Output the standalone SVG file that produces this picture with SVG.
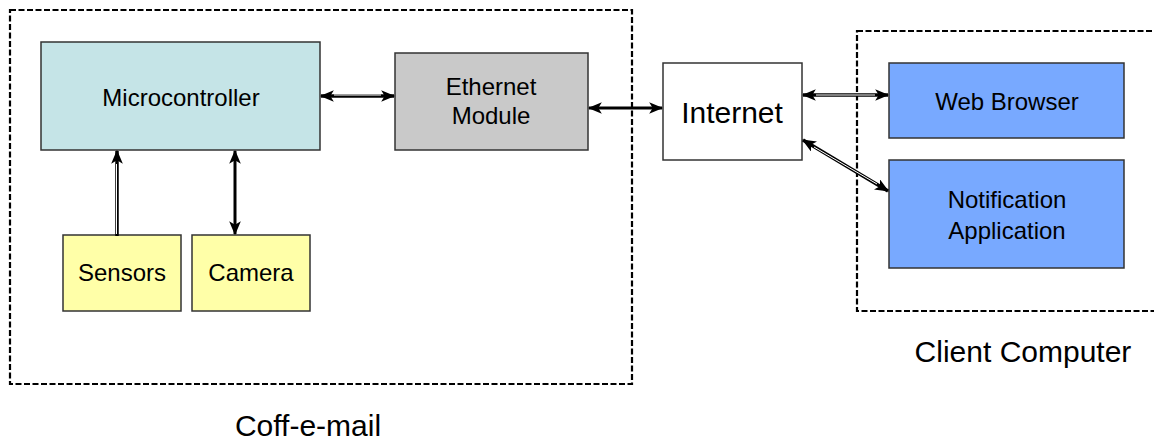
<svg xmlns="http://www.w3.org/2000/svg" width="1154" height="440" viewBox="0 0 1154 440">
  <defs>
    <marker id="head" viewBox="0 0 12 10" refX="11" refY="5" markerWidth="14" markerHeight="12" markerUnits="userSpaceOnUse" orient="auto-start-reverse">
      <path d="M0,0 L12,5 L0,10 L3,5 Z" fill="#000"/>
    </marker>
  </defs>
  <style>
    .group { fill: none; stroke: #000; stroke-width: 2.2; stroke-dasharray: 6 2.5; }
    .node { stroke: #333; stroke-width: 1.5; }
    .label { font-family: "Liberation Sans", Arial, sans-serif; fill: #000; text-anchor: middle; }
    .wire { fill: none; stroke: #000; stroke-width: 3.5; }
    .core { fill: none; stroke: #fff; stroke-width: 1; }
    .solid { fill: none; stroke: #000; stroke-width: 3; }
  </style>

  <rect id="background" x="0" y="0" width="1154" height="440" fill="#fff"/>

  <!-- system boundaries -->
  <g id="coffemail-boundary">
    <rect class="group" x="10" y="10" width="622" height="374"/>
    <text class="label" x="308" y="436" font-size="30">Coff-e-mail</text>
  </g>
  <g id="client-boundary">
    <rect class="group" x="857" y="31" width="320" height="280"/>
    <text class="label" x="1023" y="362" font-size="30">Client Computer</text>
  </g>

  <!-- components -->
  <g id="microcontroller">
    <rect class="node" x="41" y="42" width="279" height="108" fill="#C5E4E7"/>
    <text class="label" x="181" y="106" font-size="24">Microcontroller</text>
  </g>
  <g id="ethernet-module">
    <rect class="node" x="395" y="53" width="193" height="97" fill="#C9C9C9"/>
    <text class="label" x="491" y="95" font-size="24">Ethernet</text>
    <text class="label" x="491" y="124" font-size="24">Module</text>
  </g>
  <g id="sensors">
    <rect class="node" x="63" y="235" width="118" height="76" fill="#FFFFA8"/>
    <text class="label" x="122" y="281" font-size="24">Sensors</text>
  </g>
  <g id="camera">
    <rect class="node" x="192" y="235" width="118" height="76" fill="#FFFFA8"/>
    <text class="label" x="251" y="281" font-size="24">Camera</text>
  </g>
  <g id="internet">
    <rect class="node" x="663" y="63" width="139" height="97" fill="#fff"/>
    <text class="label" x="732" y="123" font-size="30">Internet</text>
  </g>
  <g id="web-browser">
    <rect class="node" x="889" y="63" width="235" height="75" fill="#78A9FF" stroke="#333A55"/>
    <text class="label" x="1007" y="110" font-size="24">Web Browser</text>
  </g>
  <g id="notification-application">
    <rect class="node" x="889" y="160" width="235" height="108" fill="#78A9FF" stroke="#333A55"/>
    <text class="label" x="1007" y="208" font-size="24">Notification</text>
    <text class="label" x="1007" y="239" font-size="24">Application</text>
  </g>

  <!-- connectors -->
  <g id="connectors">
    <!-- microcontroller <-> ethernet module -->
    <line class="wire" x1="321" y1="96" x2="394" y2="96" marker-start="url(#head)" marker-end="url(#head)"/>
    <line class="core" x1="334" y1="95" x2="381" y2="95"/>
    <!-- ethernet module <-> internet -->
    <line class="solid" x1="589" y1="108" x2="662" y2="108" marker-start="url(#head)" marker-end="url(#head)"/>
    <!-- sensors -> microcontroller -->
    <line class="wire" x1="117" y1="236" x2="117" y2="151" marker-end="url(#head)"/>
    <line class="core" x1="116.5" y1="234" x2="116.5" y2="164"/>
    <!-- camera <-> microcontroller -->
    <line class="solid" x1="235" y1="151" x2="235" y2="234" marker-start="url(#head)" marker-end="url(#head)"/>
    <!-- internet <-> web browser -->
    <line class="wire" x1="803" y1="95" x2="888" y2="95" marker-start="url(#head)" marker-end="url(#head)"/>
    <line class="core" x1="816" y1="95" x2="875" y2="95"/>
    <!-- internet <-> notification application -->
    <line class="wire" x1="803" y1="140" x2="888" y2="191" stroke="#333" marker-start="url(#head)" marker-end="url(#head)"/>
    <line class="core" x1="814" y1="147" x2="877" y2="184" stroke="#ddd"/>
  </g>
</svg>
